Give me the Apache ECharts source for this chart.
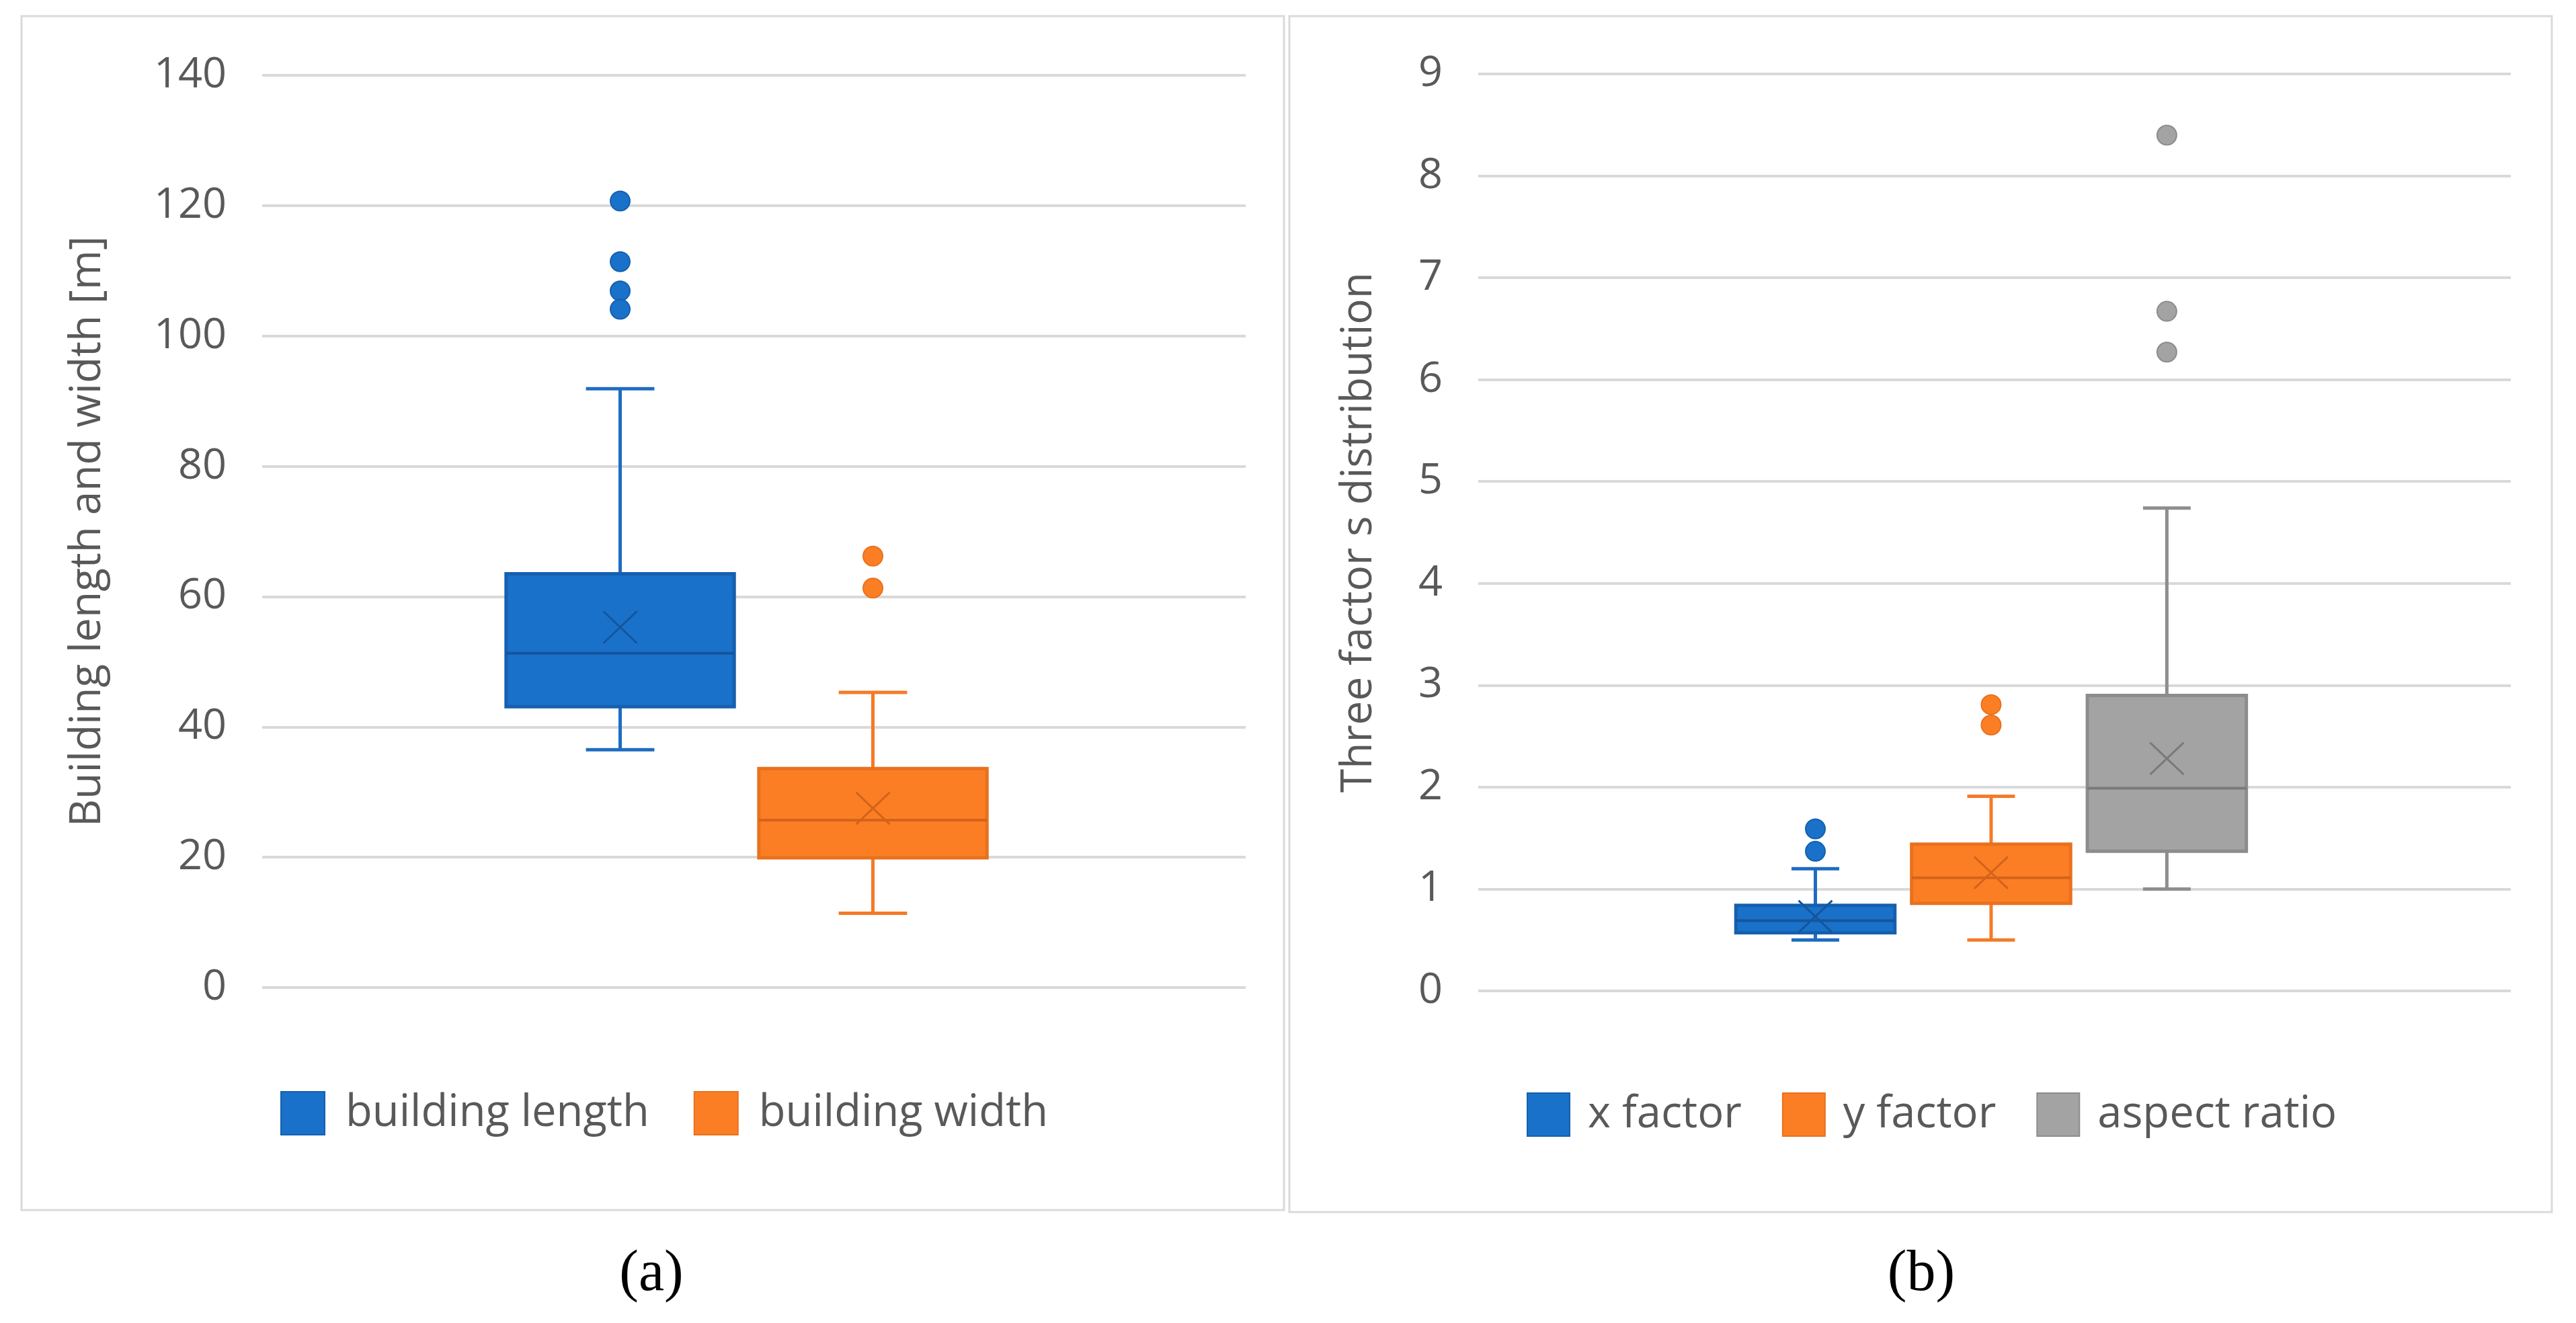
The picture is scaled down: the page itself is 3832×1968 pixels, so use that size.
<!DOCTYPE html>
<html>
<head>
<meta charset="utf-8">
<script src="https://cdn.jsdelivr.net/npm/echarts@6/dist/echarts.min.js"></script>
<style>
html,body{margin:0;padding:0;background:#fff;}
#c{width:3832px;height:1968px;}
</style>
</head>
<body>
<div id="c"></div>
<script>
// ---------- data ----------
const panelACategories = [''];
const panelBCategories = [''];
const seriesNamesA = ['building length', 'building width'];
const seriesNamesB = ['x factor', 'y factor', 'aspect ratio'];

// [min whisker, Q1, median, Q3, max whisker]
const lengthBox = [36.5, 43.1, 51.3, 63.5, 91.9];
const widthBox = [11.4, 19.9, 25.7, 33.6, 45.3];
const xFactorBox = [0.50, 0.57, 0.69, 0.84, 1.20];
const yFactorBox = [0.50, 0.86, 1.11, 1.44, 1.91];
const aspectBox = [1.00, 1.37, 1.99, 2.90, 4.74];

// means (x markers)
const lengthMean = 55.3;
const widthMean = 27.5;
const xFactorMean = 0.73;
const yFactorMean = 1.16;
const aspectMean = 2.28;

// outliers
const lengthOutliers = [120.7, 111.4, 106.9, 104.1];
const widthOutliers = [66.2, 61.3];
const xFactorOutliers = [1.59, 1.37];
const yFactorOutliers = [2.81, 2.61];
const aspectOutliers = [8.40, 6.67, 6.27];

// axis ticks
const yTicksA = {min: 0, max: 140, interval: 20};
const yTicksB = {min: 0, max: 9, interval: 1};

// ---------- styles ----------
const FONT = 'Open Sans';
const TXT = '#595959';
const STYLES = {
  blue:   {fill: '#1A71CA', border: '#1560AE', line: '#1D6CC0', dark: '#15559C'},
  orange: {fill: '#FC7E24', border: '#E8711E', line: '#F47A27', dark: '#D4631A'},
  gray:   {fill: '#A3A3A3', border: '#8C8C8C', line: '#8E8E8E', dark: '#7A7A7A'}
};
const LAYOUT = {
  a: {box: 0.232, step: 0.257, shift: -0.0075},
  b: {box: 0.154, step: 0.1702, shift: -0.0033}
};

function makeRender(panel, idx, n, outliers, st) {
  return function (params, api) {
    const band = api.size([1, 0])[0];
    const cat = api.value(0);
    const cx0 = api.coord([cat, 0])[0];
    const L = LAYOUT[panel];
    const cx = cx0 + ((idx - (n - 1) / 2) * L.step + L.shift) * band;
    const w = L.box * band;
    const cw = w * 0.3;
    const Y = v => api.coord([cat, v])[1];
    const yMin = Y(api.value(1)), yQ1 = Y(api.value(2)), yMed = Y(api.value(3)),
          yQ3 = Y(api.value(4)), yMax = Y(api.value(5)), yMean = Y(api.value(6));
    const lw = 5;
    const children = [
      {type: 'line', shape: {x1: cx, y1: yQ3, x2: cx, y2: yMax}, style: {stroke: st.line, lineWidth: lw}},
      {type: 'line', shape: {x1: cx, y1: yQ1, x2: cx, y2: yMin}, style: {stroke: st.line, lineWidth: lw}},
      {type: 'line', shape: {x1: cx - cw / 2, y1: yMax, x2: cx + cw / 2, y2: yMax}, style: {stroke: st.line, lineWidth: lw}},
      {type: 'line', shape: {x1: cx - cw / 2, y1: yMin, x2: cx + cw / 2, y2: yMin}, style: {stroke: st.line, lineWidth: lw}},
      {type: 'rect', shape: {x: cx - w / 2, y: yQ3, width: w, height: yQ1 - yQ3},
        style: {fill: st.fill, stroke: st.border, lineWidth: 5}},
      {type: 'line', shape: {x1: cx - w / 2, y1: yMed, x2: cx + w / 2, y2: yMed}, style: {stroke: st.dark, lineWidth: 4}},
    ];
    const m = 25;
    children.push({type: 'line', shape: {x1: cx - m, y1: yMean - m * 0.95, x2: cx + m, y2: yMean + m * 0.95}, style: {stroke: st.dark, lineWidth: 3}});
    children.push({type: 'line', shape: {x1: cx - m, y1: yMean + m * 0.95, x2: cx + m, y2: yMean - m * 0.95}, style: {stroke: st.dark, lineWidth: 3}});
    outliers.forEach(v => {
      children.push({type: 'circle', shape: {cx: cx, cy: Y(v), r: 14.5}, style: {fill: st.fill, stroke: st.border, lineWidth: 2}});
    });
    return {type: 'group', children: children};
  };
}

function boxSeries(name, panel, idx, n, box, mean, outliers, st, axisIdx) {
  return {
    name: name,
    type: 'custom',
    xAxisIndex: axisIdx,
    yAxisIndex: axisIdx,
    itemStyle: {color: st.fill, borderColor: st.border, borderWidth: 3},
    encode: {x: 0, y: [1, 2, 3, 4, 5, 6]},
    data: [[0].concat(box, [mean])],
    renderItem: makeRender(panel, idx, n, outliers, st)
  };
}

function yAxisCfg(ticks, name, gridIndex, nameGap) {
  return {
    type: 'value', gridIndex: gridIndex,
    min: ticks.min, max: ticks.max, interval: ticks.interval,
    name: name, nameLocation: 'middle', nameGap: nameGap,
    nameTextStyle: {fontFamily: FONT, fontSize: 64, color: TXT},
    axisLine: {show: false}, axisTick: {show: false},
    axisLabel: {fontFamily: FONT, fontSize: 63, color: TXT, margin: 53},
    splitLine: {lineStyle: {color: '#D9D9D9', width: 4}}
  };
}
function xAxisCfg(cats, gridIndex) {
  return {
    type: 'category', gridIndex: gridIndex, data: cats,
    axisLine: {show: false}, axisTick: {show: false}, axisLabel: {show: false},
    splitLine: {show: false}
  };
}

const chart = echarts.init(document.getElementById('c'), null, {renderer: 'canvas'});
chart.setOption({
  backgroundColor: '#ffffff',
  animation: false,
  grid: [
    {left: 390, right: 1979, top: 112, bottom: 499},
    {left: 2199, right: 97, top: 110, bottom: 494}
  ],
  xAxis: [xAxisCfg(panelACategories, 0), xAxisCfg(panelBCategories, 1)],
  yAxis: [
    yAxisCfg(yTicksA, 'Building length and width [m]', 0, 227),
    yAxisCfg(yTicksB, 'Three factor s distribution', 1, 145)
  ],
  legend: [
    {data: seriesNamesA, left: 412, top: 1618, icon: 'rect', itemWidth: 65, itemHeight: 64, itemGap: 66,
     textStyle: {fontFamily: FONT, fontSize: 65, color: TXT, padding: [0, 0, 0, 26]}},
    {data: seriesNamesB, left: 2266, top: 1620, icon: 'rect', itemWidth: 63, itemHeight: 64, itemGap: 60,
     textStyle: {fontFamily: FONT, fontSize: 65, color: TXT, padding: [0, 0, 0, 22]}}
  ],
  graphic: [
    {type: 'rect', shape: {x: 32, y: 24, width: 1878, height: 1776}, style: {fill: 'none', stroke: '#DADADA', lineWidth: 3}, silent: true},
    {type: 'rect', shape: {x: 1918, y: 24, width: 1878, height: 1779}, style: {fill: 'none', stroke: '#DADADA', lineWidth: 3}, silent: true},
    {type: 'text', x: 969, y: 1896, style: {text: '(a)', fontFamily: 'Liberation Serif', fontSize: 86, fill: '#000', align: 'center', verticalAlign: 'middle'}, silent: true},
    {type: 'text', x: 2858, y: 1896, style: {text: '(b)', fontFamily: 'Liberation Serif', fontSize: 86, fill: '#000', align: 'center', verticalAlign: 'middle'}, silent: true}
  ],
  series: [
    boxSeries(seriesNamesA[0], 'a', 0, 2, lengthBox, lengthMean, lengthOutliers, STYLES.blue, 0),
    boxSeries(seriesNamesA[1], 'a', 1, 2, widthBox, widthMean, widthOutliers, STYLES.orange, 0),
    boxSeries(seriesNamesB[0], 'b', 0, 3, xFactorBox, xFactorMean, xFactorOutliers, STYLES.blue, 1),
    boxSeries(seriesNamesB[1], 'b', 1, 3, yFactorBox, yFactorMean, yFactorOutliers, STYLES.orange, 1),
    boxSeries(seriesNamesB[2], 'b', 2, 3, aspectBox, aspectMean, aspectOutliers, STYLES.gray, 1)
  ]
});
</script>
</body>
</html>
